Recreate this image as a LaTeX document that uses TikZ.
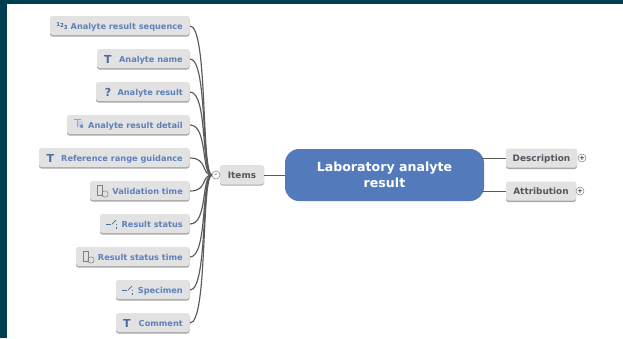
\documentclass[tikz,border=0pt]{standalone}
\usepackage{fontspec}
\setmainfont{DejaVu Sans}
\definecolor{frame}{HTML}{003F52}
\definecolor{boxfill}{HTML}{E2E2E2}
\definecolor{boxshadow}{HTML}{A8A8A8}
\definecolor{leaftext}{HTML}{5F80B8}
\definecolor{icontext}{HTML}{4A6C9F}
\definecolor{grouptext}{HTML}{55555F}
\definecolor{centerblue}{HTML}{537BBB}
\definecolor{linkgray}{HTML}{5A5A5A}
\tikzset{
  x=1pt,y=-1pt,
  boxbase/.style={rounded corners=2.5pt,fill=boxfill,inner sep=0pt,minimum height=19pt,outer sep=0pt},
  leaf/.style={boxbase,anchor=east},
  leaflabel/.style={text=leaftext,anchor=base east,inner sep=0pt,font=\bfseries\fontsize{8.2}{10}\selectfont},
  group/.style={boxbase,text=grouptext,text height=7pt,text depth=0.4pt,font=\bfseries\fontsize{8.9}{10}\selectfont},
  link/.style={draw=linkgray,line width=1.15pt},
  thinlink/.style={draw=linkgray,line width=0.9pt},
  shade box/.style={fill=boxshadow,rounded corners=2.5pt},
  toggle/.style={circle,draw=gray,fill=white,line width=0.5pt,minimum size=8pt,inner sep=0pt,font=\fontsize{7}{7}\selectfont},
  icon/.style={draw=icontext,line width=0.6pt},
  iconglyph/.style={text=icontext,inner sep=0pt,font=\bfseries\fontsize{11}{11}\selectfont},
}
\newcommand{\leafbox}[5]{% name, left, right, y, label
  \fill[shade box] (#2,#4-9) rectangle (#3,#4+10.5);
  \node[leaf,minimum width=#3pt-#2pt] (#1) at (#3,#4-0.5) {};
  \node[leaflabel] (#1t) at (#3-6.5,#4+3.3) {#5};
}
\begin{document}
\begin{tikzpicture}
\useasboundingbox (0,0) rectangle (623,338);
\fill[frame] (0,0) rectangle (623,338);
\fill[white] (7,4) rectangle (623,338);

% links first
\coordinate (hub) at (212,175);
\coordinate (hubc) at (201,175);
\foreach \yy in {26,59,92,125,158,191,224,257,290,323}{
  \coordinate (p) at (190,\yy);
  \coordinate (pc) at (208,\yy);
  \draw[link] (p) .. controls (pc) and (hubc) .. (hub);
}

% leaves
\leafbox{a}{50}{189.5}{26}{Analyte result sequence}
\leafbox{b}{97}{189.5}{59}{Analyte name}
\leafbox{c}{96}{189.5}{92}{Analyte result}
\leafbox{d}{67}{189.5}{125}{Analyte result detail}
\leafbox{e}{39}{189.5}{158}{Reference range guidance}
\leafbox{f}{90}{189.5}{191}{Validation time}
\leafbox{g}{100}{189.5}{224}{Result status}
\leafbox{h}{76}{189.5}{257}{Result status time}
\leafbox{i}{116}{189.5}{290}{Specimen}
\leafbox{j}{116}{189.5}{323}{Comment}

% icons
\node[iconglyph,font=\bfseries\fontsize{5.5}{7}\selectfont] (ia) at (62,26) {\raisebox{1.2pt}{1}2\raisebox{-1.2pt}{3}};
\node[iconglyph] (ib) at (108,59) {T};
\node[iconglyph] (ic) at (108,92) {?};
\node[iconglyph] (ie) at (50.5,158) {T};
\node[iconglyph] (ij) at (127,323) {T};
% detail icon
\draw[icon,draw=leaftext!70] (74,119.5) -- (81,119.5) (77,119.5) -- (77,127);
\fill[leaftext!35] (78,121) rectangle (83,127);
\node[iconglyph,font=\bfseries\fontsize{5}{5}\selectfont] (id) at (81.5,127) {4};
% time icons
\draw[icon,draw=gray,line width=0.5pt] (97,185) rectangle (102,195);
\draw[icon,draw=gray,line width=0.5pt] (105,194) circle (3.2);
\draw[icon,draw=gray,line width=0.5pt] (83,251) rectangle (88,261);
\draw[icon,draw=gray,line width=0.5pt] (91,260) circle (3.2);
% choice icons
\foreach \xx/\yy in {106/224,122/290}{
  \draw[icon,line width=0.7pt] (\xx,\yy) -- (\xx+5,\yy);
  \draw[icon,line width=0.7pt] (\xx+6,\yy) -- (\xx+10,\yy-4);
  \fill[icontext] (\xx+9.5,\yy-0.5) rectangle (\xx+11,\yy+0.7);
  \fill[icontext] (\xx+9.5,\yy+3) rectangle (\xx+11,\yy+4.5);
}

% items
\fill[shade box] (220,165.5) rectangle (264,185.5);
\node[group,minimum width=44pt] (items) at (242,175) {Items};
\node[toggle] (tgl) at (216,175) {-};

% center
\node[fill=centerblue,rounded corners=14pt,minimum width=199pt,minimum height=52pt,inner sep=0pt,align=center,text=white,
  font=\bfseries\fontsize{12.6}{16}\selectfont] (ctr) at (384.5,175) {Laboratory analyte\\result};

% right groups
\fill[shade box] (506,149) rectangle (577,169);
\node[group,minimum width=71pt] (desc) at (541.5,158) {Description};
\fill[shade box] (506,182) rectangle (576,202);
\node[group,minimum width=70pt] (attr) at (541,191) {Attribution};
\node[toggle] (tg2) at (582,158) {+};
\node[toggle] (tg3) at (580,191) {+};

% links to center
\draw[thinlink] (items.east) -- (ctr.west);
\coordinate (dl) at (ctr.east |- desc.west);
\coordinate (al) at (ctr.east |- attr.west);
\draw[thinlink] (desc.west) -- ([xshift=-2pt]dl);
\draw[thinlink] (attr.west) -- ([xshift=-2pt]al);
\end{tikzpicture}
\end{document}
